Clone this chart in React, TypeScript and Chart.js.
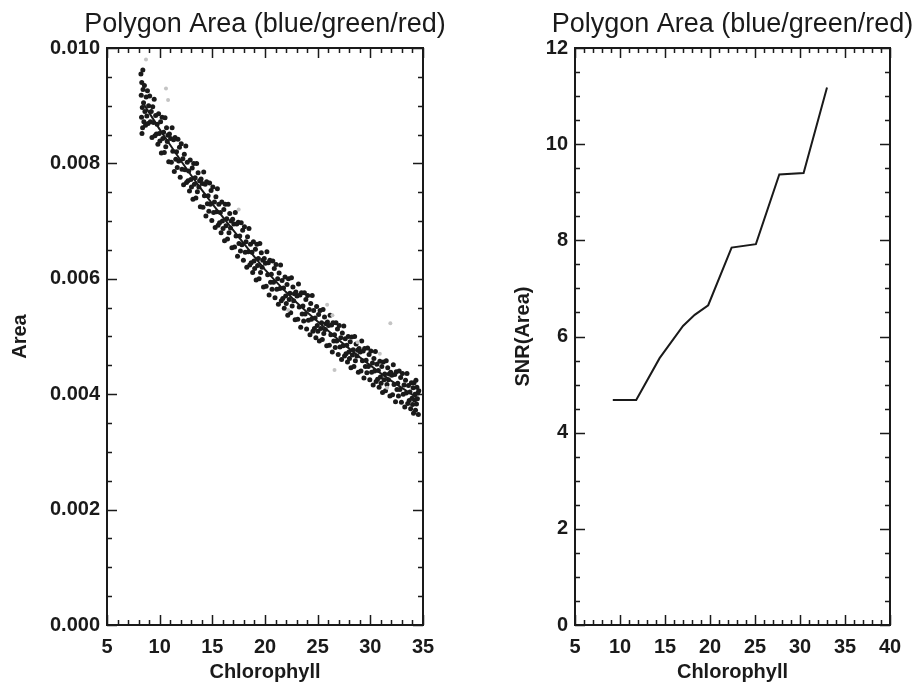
import React, { useEffect, useRef } from "react";
import { Chart, registerables } from "chart.js";

Chart.register(...registerables);

const TITLE = "Polygon Area (blue/green/red)";
const X_LABEL = "Chlorophyll";
const LEFT_Y_LABEL = "Area";
const RIGHT_Y_LABEL = "SNR(Area)";
const FONT = '"Liberation Sans", Arial, Helvetica, sans-serif';

// Left panel: chlorophyll vs polygon area (scatter)
const areaPoints: [number, number][] = [
  [8.22, 0.00955], [8.25, 0.00918], [8.28, 0.0088], [8.3, 0.0094], [8.32, 0.00852], [8.35, 0.00897], [8.38, 0.00862],
  [8.4, 0.00962], [8.42, 0.00928], [8.47, 0.00905], [8.5, 0.00872], [8.55, 0.00935], [8.6, 0.0089], [8.66, 0.00866],
  [8.72, 0.00915], [8.78, 0.00882], [8.84, 0.00926], [8.9, 0.00869], [8.95, 0.009],
  [9.05, 0.00917], [9.12, 0.00872], [9.2, 0.0089], [9.27, 0.00845], [9.34, 0.00898], [9.41, 0.00871], [9.48, 0.00911],
  [9.55, 0.00848], [9.62, 0.00883], [9.69, 0.00851], [9.76, 0.00868], [9.83, 0.00833], [9.9, 0.00886], [9.96, 0.00852],
  [10.02, 0.00839], [10.09, 0.00872], [10.16, 0.00818], [10.23, 0.0088], [10.3, 0.00843], [10.37, 0.00854], [10.44, 0.00819],
  [10.51, 0.00879], [10.58, 0.00829], [10.65, 0.00862], [10.72, 0.00838], [10.79, 0.00849], [10.86, 0.00803], [10.93, 0.00851],
  [11.04, 0.00843], [11.11, 0.00802], [11.18, 0.00862], [11.25, 0.00821], [11.32, 0.00841], [11.39, 0.00786], [11.46, 0.00845],
  [11.53, 0.00807], [11.6, 0.0082], [11.67, 0.00793], [11.74, 0.00842], [11.81, 0.00804], [11.88, 0.00828], [11.95, 0.00776],
  [12.05, 0.00834], [12.12, 0.0079], [12.2, 0.00808], [12.27, 0.00763], [12.34, 0.00816], [12.41, 0.00789], [12.48, 0.0083],
  [12.55, 0.00767], [12.62, 0.00802], [12.69, 0.0077], [12.76, 0.00787], [12.83, 0.00752], [12.9, 0.00806], [12.96, 0.00772],
  [13.02, 0.00759], [13.09, 0.00792], [13.16, 0.00738], [13.23, 0.008], [13.3, 0.00764], [13.37, 0.00775], [13.44, 0.0074],
  [13.51, 0.008], [13.58, 0.00751], [13.65, 0.00784], [13.72, 0.00759], [13.79, 0.0077], [13.86, 0.00725], [13.93, 0.00773],
  [14.04, 0.00765], [14.11, 0.00724], [14.18, 0.00785], [14.25, 0.00744], [14.32, 0.00764], [14.39, 0.00709], [14.46, 0.00768],
  [14.53, 0.0073], [14.6, 0.00744], [14.67, 0.00717], [14.74, 0.00766], [14.81, 0.00729], [14.88, 0.00753], [14.95, 0.00701],
  [15.05, 0.00759], [15.12, 0.00715], [15.2, 0.00733], [15.27, 0.00689], [15.34, 0.00742], [15.41, 0.00716], [15.48, 0.00756],
  [15.55, 0.00693], [15.62, 0.00729], [15.69, 0.00697], [15.76, 0.00715], [15.83, 0.0068], [15.9, 0.00733], [15.96, 0.007],
  [16.02, 0.00687], [16.09, 0.0072], [16.16, 0.00666], [16.23, 0.00729], [16.3, 0.00692], [16.37, 0.00704], [16.44, 0.00669],
  [16.51, 0.00729], [16.58, 0.0068], [16.65, 0.00713], [16.72, 0.00688], [16.79, 0.007], [16.86, 0.00654], [16.93, 0.00703],
  [17.04, 0.00695], [17.11, 0.00655], [17.18, 0.00715], [17.25, 0.00674], [17.32, 0.00695], [17.39, 0.00639], [17.46, 0.00698],
  [17.53, 0.00661], [17.6, 0.00674], [17.67, 0.00648], [17.74, 0.00697], [17.81, 0.00659], [17.88, 0.00684], [17.95, 0.00632],
  [18.05, 0.0069], [18.12, 0.00646], [18.2, 0.00664], [18.27, 0.0062], [18.34, 0.00673], [18.41, 0.00647], [18.48, 0.00687],
  [18.55, 0.00624], [18.62, 0.0066], [18.69, 0.00628], [18.76, 0.00646], [18.83, 0.00611], [18.9, 0.00664], [18.96, 0.00631],
  [19.02, 0.00618], [19.09, 0.00651], [19.16, 0.00598], [19.23, 0.0066], [19.3, 0.00623], [19.37, 0.00635], [19.44, 0.006],
  [19.51, 0.00661], [19.58, 0.00611], [19.65, 0.00645], [19.72, 0.0062], [19.79, 0.00632], [19.86, 0.00586], [19.93, 0.00635],
  [20.04, 0.00627], [20.11, 0.00587], [20.18, 0.00647], [20.25, 0.00607], [20.32, 0.00628], [20.39, 0.00572], [20.46, 0.00632],
  [20.53, 0.00594], [20.6, 0.00608], [20.67, 0.00582], [20.74, 0.00631], [20.81, 0.00594], [20.88, 0.00618], [20.95, 0.00567],
  [21.05, 0.00625], [21.12, 0.00582], [21.2, 0.006], [21.27, 0.00556], [21.34, 0.0061], [21.41, 0.00583], [21.48, 0.00624],
  [21.55, 0.00562], [21.62, 0.00597], [21.69, 0.00566], [21.76, 0.00584], [21.83, 0.00549], [21.9, 0.00603], [21.96, 0.0057],
  [22.02, 0.00557], [22.09, 0.0059], [22.16, 0.00537], [22.23, 0.006], [22.3, 0.00564], [22.37, 0.00575], [22.44, 0.00541],
  [22.51, 0.00602], [22.58, 0.00553], [22.65, 0.00586], [22.72, 0.00562], [22.79, 0.00574], [22.86, 0.00529], [22.93, 0.00577],
  [23.04, 0.0057], [23.11, 0.0053], [23.18, 0.00591], [23.25, 0.00551], [23.32, 0.00572], [23.39, 0.00516], [23.46, 0.00576],
  [23.53, 0.00539], [23.6, 0.00553], [23.67, 0.00527], [23.74, 0.00576], [23.81, 0.00539], [23.88, 0.00564], [23.95, 0.00513],
  [24.05, 0.00571], [24.12, 0.00528], [24.2, 0.00547], [24.27, 0.00503], [24.34, 0.00557], [24.41, 0.0053], [24.48, 0.00571],
  [24.55, 0.00509], [24.62, 0.00545], [24.69, 0.00514], [24.76, 0.00532], [24.83, 0.00498], [24.9, 0.00552], [24.96, 0.00519],
  [25.02, 0.00509], [25.09, 0.00538], [25.16, 0.00492], [25.23, 0.00545], [25.3, 0.00514], [25.37, 0.00524], [25.44, 0.00495],
  [25.51, 0.00547], [25.58, 0.00505], [25.65, 0.00534], [25.72, 0.00512], [25.79, 0.00522], [25.86, 0.00484], [25.93, 0.00525],
  [26.04, 0.00519], [26.11, 0.00485], [26.18, 0.00537], [26.25, 0.00503], [26.32, 0.0052], [26.39, 0.00473], [26.46, 0.00524],
  [26.53, 0.00492], [26.6, 0.00503], [26.67, 0.00481], [26.74, 0.00524], [26.81, 0.00492], [26.88, 0.00513], [26.95, 0.00469],
  [27.05, 0.00519], [27.12, 0.00482], [27.2, 0.00498], [27.27, 0.0046], [27.34, 0.00506], [27.41, 0.00484], [27.48, 0.00518],
  [27.55, 0.00466], [27.62, 0.00496], [27.69, 0.0047], [27.76, 0.00485], [27.83, 0.00456], [27.9, 0.005], [27.96, 0.00473],
  [28.02, 0.00462], [28.09, 0.00491], [28.16, 0.00446], [28.23, 0.00499], [28.3, 0.00468], [28.37, 0.00477], [28.44, 0.00448],
  [28.51, 0.005], [28.58, 0.00458], [28.65, 0.00487], [28.72, 0.00466], [28.79, 0.00476], [28.86, 0.00438], [28.93, 0.00479],
  [29.04, 0.00473], [29.11, 0.0044], [29.18, 0.00492], [29.25, 0.00458], [29.32, 0.00475], [29.39, 0.00428], [29.46, 0.00479],
  [29.53, 0.00448], [29.6, 0.00459], [29.67, 0.00437], [29.74, 0.0048], [29.81, 0.00448], [29.88, 0.00469], [29.95, 0.00425],
  [30.05, 0.00475], [30.12, 0.00438], [30.2, 0.00454], [30.27, 0.00416], [30.34, 0.00462], [30.41, 0.0044], [30.48, 0.00474],
  [30.55, 0.00422], [30.62, 0.00452], [30.69, 0.00426], [30.76, 0.00441], [30.83, 0.00412], [30.9, 0.00457], [30.96, 0.0043],
  [31.02, 0.00419], [31.09, 0.00448], [31.16, 0.00403], [31.23, 0.00456], [31.3, 0.00425], [31.37, 0.00435], [31.44, 0.00406],
  [31.51, 0.00458], [31.58, 0.00417], [31.65, 0.00446], [31.72, 0.00425], [31.79, 0.00435], [31.86, 0.00397], [31.93, 0.00438],
  [32.04, 0.00433], [32.11, 0.00399], [32.18, 0.00451], [32.25, 0.00417], [32.32, 0.00434], [32.39, 0.00387], [32.46, 0.00439],
  [32.53, 0.00408], [32.6, 0.00419], [32.67, 0.00397], [32.74, 0.0044], [32.81, 0.00408], [32.88, 0.00429], [32.95, 0.00386],
  [33.05, 0.00436], [33.12, 0.004], [33.2, 0.00416], [33.27, 0.00378], [33.34, 0.00424], [33.41, 0.00402], [33.48, 0.00436],
  [33.55, 0.00384], [33.62, 0.00415], [33.69, 0.00389], [33.76, 0.00404], [33.83, 0.00375], [33.9, 0.0042], [33.96, 0.00393],
  [34.01, 0.00382], [34.06, 0.00411], [34.1, 0.00367], [34.15, 0.0042], [34.2, 0.0039], [34.24, 0.004], [34.29, 0.00372],
  [34.33, 0.00424], [34.38, 0.00383], [34.42, 0.00412], [34.47, 0.00392], [34.51, 0.00402], [34.56, 0.00365], [34.6, 0.00406],
];

// a few faint grey points visible in the scan
const faintPoints: [number, number][] = [
  [8.7, 0.0098], [10.6, 0.0093], [10.8, 0.0091], [17.5, 0.0072], [22.2, 0.00546], [25.9, 0.00555],
  [26.4, 0.00537], [31.9, 0.00523], [26.6, 0.00442], [31.6, 0.00411], [30.9, 0.0047], [28.8, 0.0049],
];

// centre curve through the band
const fitX = [8.4, 9, 10, 11, 12, 13, 14, 15, 16, 17, 18, 19, 20, 21, 22, 23, 24, 25, 26, 27, 28, 29, 30, 31, 32, 33, 34, 34.6];
const fitY = [
  0.00905, 0.00888, 0.00859, 0.00832, 0.00805, 0.00779, 0.00754, 0.0073, 0.00707, 0.00684, 0.00661, 0.00638, 0.00616, 0.00596,
  0.00577, 0.00559, 0.00542, 0.00526, 0.0051, 0.00494, 0.00479, 0.00464, 0.0045, 0.00436, 0.00423, 0.00411, 0.00399, 0.00392,
];

// Right panel: SNR of area vs chlorophyll
const snrX = [9.2, 11.8, 14.4, 17.0, 18.3, 19.8, 22.4, 25.1, 27.7, 30.4, 33.0];
const snrY = [4.68, 4.68, 5.55, 6.22, 6.45, 6.65, 7.85, 7.92, 9.37, 9.4, 11.18];

const INK = "#1a1a1a";

function frameAndTitlePlugin(xMinor: number, yMinor: number) {
  return {
    id: "frameTicks",
    afterDraw(chart: any) {
      const { ctx, chartArea } = chart;
      const { left, right, top, bottom } = chartArea;
      const xs = chart.scales.x;
      const ys = chart.scales.y;
      ctx.save();
      ctx.strokeStyle = INK;
      ctx.lineWidth = 2;
      ctx.strokeRect(left, top, right - left, bottom - top);
      ctx.lineWidth = 1.5;
      const isMajor = (v: number, step: number) => Math.abs(v / step - Math.round(v / step)) < 1e-6;
      const xStep = xs.options.ticks.stepSize;
      for (let v = xs.min; v <= xs.max + 1e-9; v += xMinor) {
        const p = Math.round(xs.getPixelForValue(v)) + 0.5;
        const len = isMajor(v, xStep) ? 10 : 5;
        ctx.beginPath();
        ctx.moveTo(p, bottom);
        ctx.lineTo(p, bottom - len);
        ctx.moveTo(p, top);
        ctx.lineTo(p, top + len);
        ctx.stroke();
      }
      const yStep = ys.options.ticks.stepSize;
      for (let v = ys.min; v <= ys.max + 1e-12; v += yMinor) {
        const p = Math.round(ys.getPixelForValue(v)) + 0.5;
        const len = isMajor(v, yStep) ? 10 : 5;
        ctx.beginPath();
        ctx.moveTo(left, p);
        ctx.lineTo(left + len, p);
        ctx.moveTo(right, p);
        ctx.lineTo(right - len, p);
        ctx.stroke();
      }
      ctx.fillStyle = INK;
      ctx.font = `normal 27px ${FONT}`;
      ctx.textAlign = "center";
      ctx.textBaseline = "alphabetic";
      ctx.fillText(TITLE, (left + right) / 2, 32);
      ctx.restore();
    },
  };
}

type PanelSpec = {
  datasets: any[];
  xMax: number;
  yMax: number;
  yStep: number;
  xMinor: number;
  yMinor: number;
  yDecimals: number;
  yTitle: string;
  yAxisWidth: number;
  yTitlePad: number;
  padRight: number;
};

function buildChart(canvas: HTMLCanvasElement, s: PanelSpec) {
  const tickFont = { family: FONT, size: 20, weight: "bold" as const };
  return new Chart(canvas, {
    type: "scatter",
    data: { datasets: s.datasets },
    options: {
      animation: false,
      responsive: false,
      devicePixelRatio: 1,
      layout: { padding: { left: 0, right: s.padRight, top: 48, bottom: 0 } },
      plugins: { legend: { display: false }, title: { display: false }, tooltip: { enabled: false } },
      scales: {
        x: {
          type: "linear",
          min: 5,
          max: s.xMax,
          grid: { display: false, drawTicks: false },
          border: { display: false },
          ticks: { stepSize: 5, color: INK, font: tickFont, padding: 10, maxRotation: 0, autoSkip: false },
          title: { display: true, text: X_LABEL, color: INK, font: tickFont, padding: { top: 2, bottom: 2 } },
          afterFit(scale: any) {
            scale.height = 61;
          },
        },
        y: {
          type: "linear",
          min: 0,
          max: s.yMax,
          grid: { display: false, drawTicks: false },
          border: { display: false },
          ticks: {
            stepSize: s.yStep,
            color: INK,
            font: tickFont,
            padding: 7,
            callback: (v: any) => Number(v).toFixed(s.yDecimals),
          },
          title: {
            display: true,
            text: s.yTitle,
            color: INK,
            font: tickFont,
            padding: { top: s.yTitlePad, bottom: s.yTitlePad },
          },
          afterFit(scale: any) {
            scale.width = s.yAxisWidth;
          },
        },
      },
    },
    plugins: [frameAndTitlePlugin(s.xMinor, s.yMinor)],
  });
}

export default function App() {
  const leftRef = useRef<HTMLCanvasElement>(null);
  const rightRef = useRef<HTMLCanvasElement>(null);

  useEffect(() => {
    document.body.style.margin = "0";
    const left = buildChart(leftRef.current!, {
      datasets: [
        {
          data: faintPoints.map(([x, y]) => ({ x, y })),
          pointRadius: 2,
          pointBackgroundColor: "#c4c4c4",
          pointBorderWidth: 0,
          showLine: false,
        },
        {
          data: areaPoints.map(([x, y]) => ({ x, y })),
          pointRadius: 2.5,
          pointBackgroundColor: INK,
          pointBorderWidth: 0,
          showLine: false,
        },
        {
          data: fitX.map((x, i) => ({ x, y: fitY[i] })),
          showLine: true,
          pointRadius: 0,
          borderColor: INK,
          borderWidth: 2,
        },
      ],
      xMax: 35,
      yMax: 0.01,
      yStep: 0.002,
      xMinor: 1,
      yMinor: 0.0005,
      yDecimals: 3,
      yTitle: LEFT_Y_LABEL,
      yAxisWidth: 107,
      yTitlePad: 8,
      padRight: 38,
    });
    const right = buildChart(rightRef.current!, {
      datasets: [
        {
          data: snrX.map((x, i) => ({ x, y: snrY[i] })),
          showLine: true,
          pointRadius: 0,
          borderColor: INK,
          borderWidth: 2,
        },
      ],
      xMax: 40,
      yMax: 12,
      yStep: 2,
      xMinor: 1,
      yMinor: 0.5,
      yDecimals: 0,
      yTitle: RIGHT_Y_LABEL,
      yAxisWidth: 114,
      yTitlePad: 50,
      padRight: 32,
    });
    return () => {
      left.destroy();
      right.destroy();
    };
  }, []);

  return (
    <div style={{ position: "absolute", left: 0, top: 0, width: 922, height: 686, background: "#fff" }}>
      <canvas ref={leftRef} width={461} height={686} style={{ position: "absolute", left: 0, top: 0 }} />
      <canvas ref={rightRef} width={461} height={686} style={{ position: "absolute", left: 461, top: 0 }} />
    </div>
  );
}
